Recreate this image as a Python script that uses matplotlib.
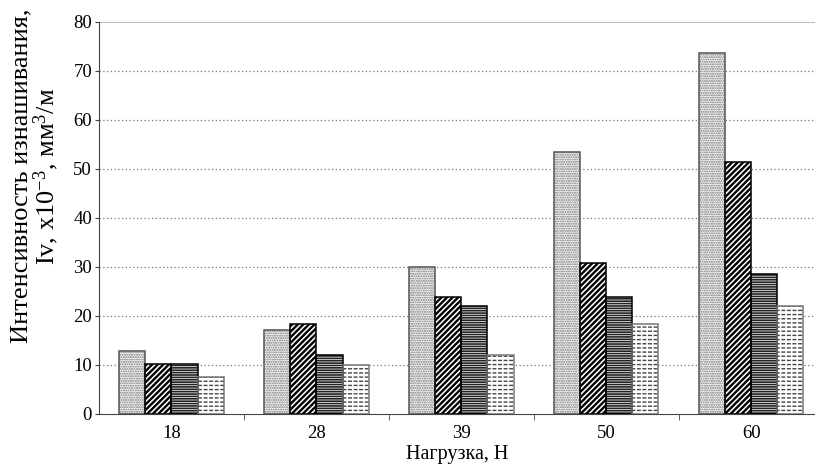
import numpy as np
import matplotlib.pyplot as plt

plt.rcParams['font.family'] = ['Liberation Serif', 'DejaVu Serif']
plt.rcParams['mathtext.fontset'] = 'custom'
plt.rcParams['mathtext.rm'] = 'Liberation Serif'
plt.rcParams['mathtext.it'] = 'Liberation Serif'

# data
loads = ["18", "28", "39", "50", "60"]
s1 = [12.9, 17.1, 30.0, 53.4, 73.6]
s2 = [10.2, 18.3, 23.9, 30.8, 51.4]
s3 = [10.2, 12.0, 22.0, 23.9, 28.6]
s4 = [7.5, 10.1, 12.0, 18.4, 22.0]
series = [s1, s2, s3, s4]

# look of each series
hatches = [".......", "//////", "-------", "----"]
hatch_col = ["#6f6f6f", "black", "#222222", "#444444"]
hatch_lw = [1.0, 1.7, 1.2, 1.0]
edge_col = ["#555555", "black", "black", "#777777"]

fig = plt.figure(figsize=(8.15, 4.65), dpi=100)
ax = fig.add_axes([0.1215, 0.1097, 0.8785, 0.843])

x = np.arange(len(loads))
w = 0.18
for i, vals in enumerate(series):
    pos = x + (i - 1.5) * w
    with plt.rc_context({'hatch.linewidth': hatch_lw[i]}):
        ax.bar(pos, vals, w, color="white", hatch=hatches[i], edgecolor=hatch_col[i],
               linewidth=0, zorder=2)
    if i == 3:
        # break horizontal lines into dashes
        with plt.rc_context({'hatch.linewidth': 1.2}):
            ax.bar(pos, vals, w, color="none", hatch="|||", edgecolor="white",
                   linewidth=0, zorder=2.5)
    ax.bar(pos, vals, w, color="none", edgecolor=edge_col[i], linewidth=1.1, zorder=3)

ax.set_ylim(0, 80)
ax.set_xlim(-0.5, 4.44)
ax.set_yticks(range(0, 81, 10))
for yv in range(10, 80, 10):
    ax.axhline(yv, color="#777777", linestyle=(0, (1, 2)), linewidth=0.9, zorder=1)
ax.axhline(80, color="#b0b0b0", linewidth=1.2, zorder=1)

ax.set_xticks(x)
ax.set_xticklabels(loads)
ax.set_xticks(x[:-1] + 0.5, minor=True)
ax.tick_params(axis="x", which="major", length=0, labelsize=13.5, pad=8)
ax.tick_params(axis="x", which="minor", length=4, direction="out", color="#444444")
ax.tick_params(axis="y", length=3, labelsize=13.5, pad=2, color="#444444")

for s in ["top", "right"]:
    ax.spines[s].set_visible(False)
ax.spines["left"].set_color("#444444")
ax.spines["bottom"].set_color("#444444")

ax.set_xlabel("Нагрузка, Н", fontsize=14.5, labelpad=2)
ax.set_ylabel("Интенсивность изнашивания,\nIv, x10$^{-3}$, мм$^{3}$/м", fontsize=19,
              linespacing=0.95)
ax.yaxis.set_label_coords(-0.053, 0.607)

fig.savefig("out.png", dpi=100)
